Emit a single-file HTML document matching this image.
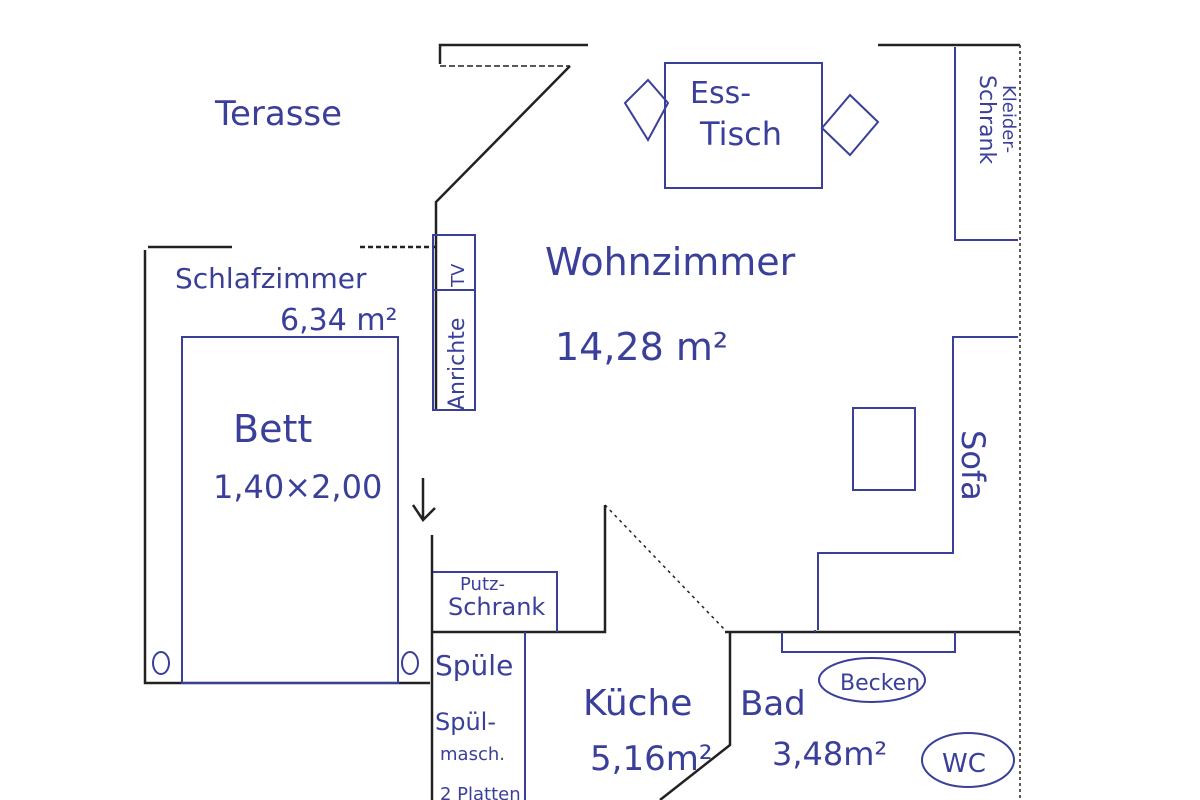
<!DOCTYPE html>
<html><head><meta charset="utf-8"><style>
html,body{margin:0;padding:0;background:#fff;width:1200px;height:800px;overflow:hidden}
svg text{font-family:"DejaVu Sans","Liberation Sans",sans-serif;fill:#3a3f9a}
</style></head><body>
<svg width="1200" height="800" viewBox="0 0 1200 800" xmlns="http://www.w3.org/2000/svg">
<g stroke="#222" stroke-width="2.5" fill="none">
<path d="M440 64 V45 H588"/>
<path d="M440 66 H570" stroke-dasharray="6 3" stroke-width="1.5"/>
<path d="M570 66 L436 202 V410"/>
<path d="M878 45 H1020"/>
<path d="M1020 45 V800" stroke-dasharray="3 3" stroke-width="1.5"/>
<path d="M148 247 H232"/>
<path d="M360 247 H435" stroke-dasharray="5 3"/>
<path d="M145 250 V683 H430"/>
<path d="M423 478 V520 M413 505 L423 520 L435 508"/>
<path d="M432 535 V800"/>
<path d="M432 632 H605 V505"/>
<path d="M605 505 L725 630" stroke-dasharray="3 4" stroke-width="1.5"/>
<path d="M725 632 H1020"/>
<path d="M730 632 V745 L660 800"/>
</g>
<g stroke="#3a3f9a" stroke-width="2" fill="none">
<rect x="665" y="63" width="157" height="125"/>
<path d="M625 103 L648 80 L668 103 L648 140 Z"/>
<path d="M822 128 L850 95 L878 122 L850 155 Z"/>
<path d="M955 47 V240 H1018"/>
<rect x="433" y="235" width="42" height="175"/>
<path d="M433 290 H475"/>
<rect x="182" y="337" width="216" height="346"/>
<ellipse cx="161" cy="663" rx="8" ry="11"/>
<ellipse cx="410" cy="663" rx="8" ry="11"/>
<path d="M1018 337 H953 V553 H818 V630"/>
<rect x="853" y="408" width="62" height="82"/>
<path d="M433 572 H557 V632"/>
<path d="M525 632 V800"/>
<path d="M782 632 V652 H955 V632"/>
<path d="M815 630 V632"/>
<ellipse cx="872" cy="680" rx="53" ry="22"/>
<ellipse cx="968" cy="760" rx="46" ry="27"/>
</g>
<text x="215" y="125" font-size="34">Terasse</text>
<text x="690" y="103" font-size="30">Ess-</text>
<text x="700" y="145" font-size="32">Tisch</text>
<text x="545" y="275" font-size="38">Wohnzimmer</text>
<text x="555" y="360" font-size="38">14,28 m²</text>
<text x="175" y="288" font-size="28">Schlafzimmer</text>
<text x="280" y="330" font-size="30">6,34 m²</text>
<text x="233" y="442" font-size="38">Bett</text>
<text x="213" y="498" font-size="32">1,40×2,00</text>
<text transform="translate(464 410) rotate(-90)" font-size="22">Anrichte</text>
<text transform="translate(464 287) rotate(-90)" font-size="18">TV</text>
<text transform="translate(980 75) rotate(90)" font-size="22">Schrank</text>
<text transform="translate(1003 85) rotate(90)" font-size="18">Kleider-</text>
<text transform="translate(962 430) rotate(90)" font-size="32">Sofa</text>
<text x="460" y="590" font-size="18">Putz-</text>
<text x="448" y="615" font-size="24">Schrank</text>
<text x="435" y="675" font-size="28">Spüle</text>
<text x="435" y="730" font-size="24">Spül-</text>
<text x="440" y="760" font-size="18">masch.</text>
<text x="440" y="800" font-size="18">2 Platten</text>
<text x="583" y="715" font-size="36">Küche</text>
<text x="590" y="770" font-size="34">5,16m²</text>
<text x="740" y="715" font-size="34">Bad</text>
<text x="772" y="765" font-size="32">3,48m²</text>
<text x="840" y="690" font-size="22">Becken</text>
<text x="942" y="772" font-size="26">WC</text>
</svg>
</body></html>
